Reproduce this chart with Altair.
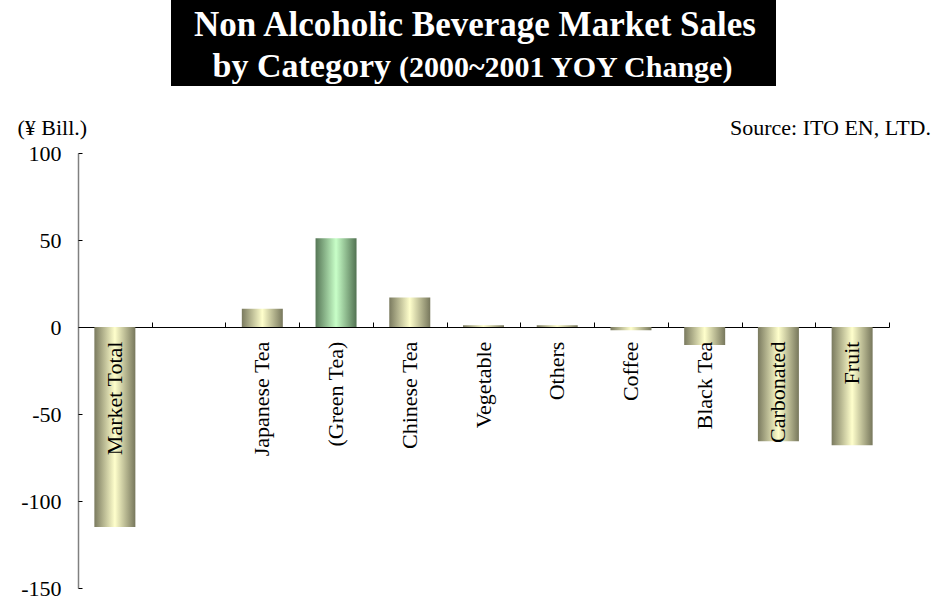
import altair as alt
import pandas as pd

# ---- data ----
categories = ["Market Total", " ", "Japanese Tea", "(Green Tea)", "Chinese Tea",
              "Vegetable", "Others", "Coffee", "Black Tea", "Carbonated", "Fruit"]
values = [-115, None, 10.5, 51, 17, 1, 1, -1.8, -10.3, -65.6, -68]
groups = ["olive", "none", "olive", "green", "olive",
          "olive", "olive", "olive", "olive", "olive", "olive"]
y_ticks = [-150, -100, -50, 0, 50, 100]

title_line1 = "Non Alcoholic Beverage Market Sales"
title_line2a = "by Category"
title_line2b = "(2000~2001 YOY Change)"
unit_label = "(¥ Bill.)"
source_label = "Source: ITO EN, LTD."

df = pd.DataFrame({"category": categories, "value": values, "group": groups})

FONT = "Liberation Serif"
FS = 22
W, H = 811, 435

olive = alt.Gradient(
    gradient="linear", x1=0, x2=1, y1=0, y2=0,
    stops=[alt.GradientStop(color="#7a7a5f", offset=0),
           alt.GradientStop(color="#ffffcc", offset=0.5),
           alt.GradientStop(color="#77775c", offset=1)])
green = alt.Gradient(
    gradient="linear", x1=0, x2=1, y1=0, y2=0,
    stops=[alt.GradientStop(color="#567656", offset=0),
           alt.GradientStop(color="#c8ffc8", offset=0.5),
           alt.GradientStop(color="#527252", offset=1)])

yscale = alt.Scale(domain=[-150, 100], nice=False)

xenc = alt.X("category:N", sort=categories,
             scale=alt.Scale(paddingInner=0, paddingOuter=0),
             axis=alt.Axis(orient="top", offset=-174, labels=False, title=None,
                           domainColor="black", domainWidth=1, tickColor="black",
                           tickSize=5, tickWidth=1, tickBand="extent", grid=False))

yleft = alt.Y("value:Q", scale=yscale,
              axis=alt.Axis(values=y_ticks, tickSize=0, labelPadding=17,
                            labelExpr="'' + datum.value",
                            labelFont=FONT, labelFontSize=FS, labelColor="black",
                            domainColor="#808080", domainWidth=1.5, grid=False,
                            title=unit_label, titleAngle=0, titleAlign="left",
                            titleBaseline="alphabetic", titleX=-61, titleY=-19,
                            titleFont=FONT, titleFontSize=FS, titleFontWeight="normal",
                            titleColor="black"))

base = alt.Chart(df)
bw = alt.RelativeBandSize(band=0.556)

bars_olive = base.transform_filter(alt.datum.group == "olive").mark_bar(
    color=olive, width=bw).encode(x=xenc, y=yleft, y2=alt.datum(0))
bars_green = base.transform_filter(alt.datum.group == "green").mark_bar(
    color=green, width=bw).encode(x=xenc, y=yleft, y2=alt.datum(0))

labels = base.mark_text(angle=270, align="right", baseline="middle", font=FONT,
                        fontSize=FS, color="black").encode(
    x=xenc, y=alt.datum(-8.4), text="category:N")

deco = alt.Chart(pd.DataFrame({"d": [0]}))
title_box = deco.mark_rect(color="black").encode(
    x=alt.value(93), x2=alt.value(698), y=alt.value(-153), y2=alt.value(-67))
t1 = deco.mark_text(text=title_line1, font=FONT, fontSize=35, fontWeight="bold",
                    color="white", align="center", baseline="alphabetic").encode(
    x=alt.value(397), y=alt.value(-117))
t2a = deco.mark_text(text=title_line2a, font=FONT, fontSize=34, fontWeight="bold",
                     color="white", align="right", baseline="alphabetic").encode(
    x=alt.value(313), y=alt.value(-76))
t2b = deco.mark_text(text=title_line2b, font=FONT, fontSize=30, fontWeight="bold",
                     color="white", align="left", baseline="alphabetic").encode(
    x=alt.value(321), y=alt.value(-76))
src = deco.mark_text(text=source_label, font=FONT, fontSize=FS, color="black",
                     align="right", baseline="alphabetic").encode(
    x=alt.value(853), y=alt.value(-18))

inner = alt.layer(bars_olive, bars_green, labels, title_box, t1, t2a, t2b, src)

tick_layer = base.mark_point(opacity=0).encode(
    y=alt.Y("value:Q", scale=yscale,
            axis=alt.Axis(orient="right", offset=-W, values=y_ticks, labels=False,
                          domain=False, tickSize=4, tickColor="black", tickWidth=1,
                          title=None, grid=False)))

chart = alt.layer(inner, tick_layer).resolve_scale(y="independent").properties(
    width=W, height=H,
    autosize=alt.AutoSizeParams(type="none"),
    padding={"left": 78, "top": 153, "right": 59, "bottom": 12},
    background="white",
).configure_view(stroke=None)

chart.save("out.html", embed_options={"renderer": "svg", "actions": False})
